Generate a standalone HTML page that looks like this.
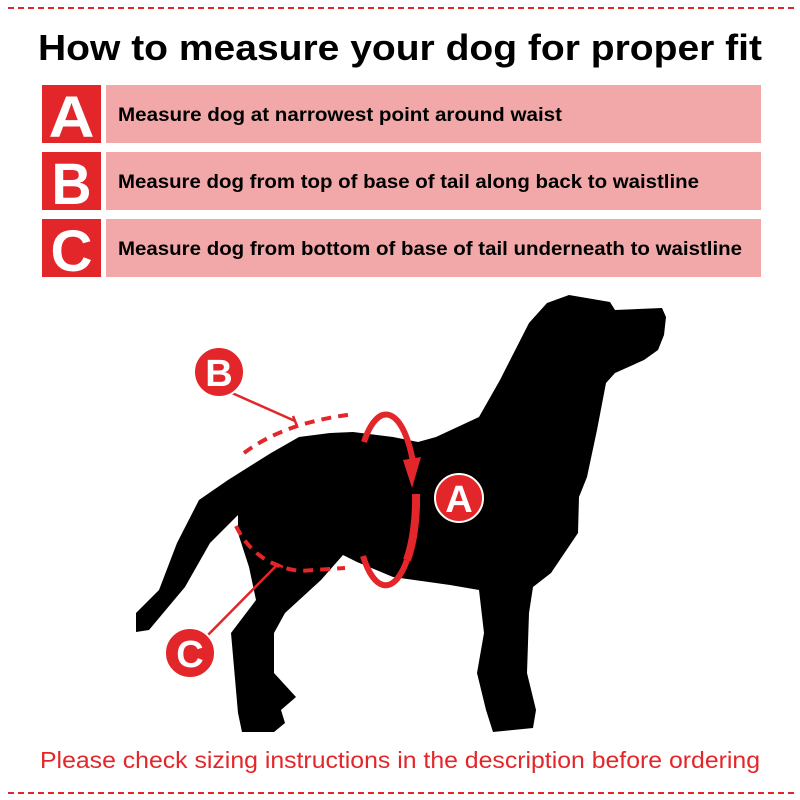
<!DOCTYPE html>
<html><head><meta charset="utf-8"><style>
html,body{margin:0;padding:0;background:#fff}
svg{display:block}
text{font-family:"Liberation Sans",sans-serif}
</style></head><body>
<svg width="800" height="800" viewBox="0 0 800 800" xmlns="http://www.w3.org/2000/svg">
<line x1="8" y1="8" x2="795" y2="8" stroke="#e3262a" stroke-width="2" stroke-dasharray="6,4"/>
<line x1="8" y1="793" x2="795" y2="793" stroke="#e3262a" stroke-width="2" stroke-dasharray="6,4"/>
<text x="400" y="60" text-anchor="middle" font-size="36" font-weight="bold" fill="#000" textLength="724" lengthAdjust="spacingAndGlyphs">How to measure your dog for proper fit</text>

<g>
<rect x="42" y="85" width="59" height="58" fill="#e3262a"/>
<rect x="106" y="85" width="655" height="58" fill="#f2a8a8"/>
<text x="71.5" y="137" text-anchor="middle" font-size="58" font-weight="bold" fill="#fff" textLength="46" lengthAdjust="spacingAndGlyphs">A</text>
<text x="118" y="121" font-size="19" font-weight="bold" fill="#000" textLength="444" lengthAdjust="spacingAndGlyphs">Measure dog at narrowest point around waist</text>

<rect x="42" y="152" width="59" height="58" fill="#e3262a"/>
<rect x="106" y="152" width="655" height="58" fill="#f2a8a8"/>
<text x="71.5" y="204" text-anchor="middle" font-size="58" font-weight="bold" fill="#fff" textLength="40" lengthAdjust="spacingAndGlyphs">B</text>
<text x="118" y="188" font-size="19" font-weight="bold" fill="#000" textLength="581" lengthAdjust="spacingAndGlyphs">Measure dog from top of base of tail along back to waistline</text>

<rect x="42" y="219" width="59" height="58" fill="#e3262a"/>
<rect x="106" y="219" width="655" height="58" fill="#f2a8a8"/>
<text x="71.5" y="271" text-anchor="middle" font-size="58" font-weight="bold" fill="#fff" textLength="42" lengthAdjust="spacingAndGlyphs">C</text>
<text x="118" y="255" font-size="19" font-weight="bold" fill="#000" textLength="624" lengthAdjust="spacingAndGlyphs">Measure dog from bottom of base of tail underneath to waistline</text>
</g>

<path fill="#000" d="M569,295 L610,302 L615,310 L662,308 L666,317 L664,335 L658,350 L644,360 L615,373 L606,383 L597,430 L587,477 L579,497 L578,533 L551,573 L533,587 L529,613 L527,673 L536,710 L533,728 L493,732 L486,710 L477,673 L484,633 L479,590 L450,585 L393,577 L357,562 L343,555 L321,580 L285,613 L274,633 L274,673 L296,697 L281,710 L285,723 L274,732 L242,732 L238,713 L231,633 L256,600 L249,567 L238,533 L238,515 L210,543 L185,587 L149,630 L136,632 L136,613 L159,590 L177,543 L199,500 L228,480 L271,453 L299,437 L330,433 L353,432 L393,437 L418,442 L436,437 L479,417 L500,380 L529,323 L547,303 Z"/>

<!-- A ring visible parts -->
<path d="M364,442 A30,85 0 0,1 413,462" fill="none" stroke="#e3262a" stroke-width="6"/>
<path d="M416,494 A30,85 0 0,1 407,560" fill="none" stroke="#e3262a" stroke-width="8"/>
<path d="M407,560 A30,85 0 0,1 363,556" fill="none" stroke="#e3262a" stroke-width="6"/>
<polygon points="403,460 421,457 412,488" fill="#e3262a"/>
<circle cx="459" cy="498" r="24" fill="#e3262a" stroke="#fff" stroke-width="2"/>
<text x="459" y="512" text-anchor="middle" font-size="38" font-weight="bold" fill="#fff">A</text>

<!-- B -->
<path d="M244,453 Q285,422 355,414" fill="none" stroke="#e3262a" stroke-width="4" stroke-dasharray="10,7"/>
<line x1="232" y1="393" x2="295" y2="421" stroke="#e3262a" stroke-width="2.5"/>
<line x1="293" y1="416" x2="297" y2="426" stroke="#e3262a" stroke-width="2.5"/>
<circle cx="219" cy="372" r="25" fill="#e3262a" stroke="#fff" stroke-width="2"/>
<text x="219" y="386" text-anchor="middle" font-size="38" font-weight="bold" fill="#fff">B</text>

<!-- C -->
<path d="M236,526 Q255,565 300,571 L345,568" fill="none" stroke="#e3262a" stroke-width="4" stroke-dasharray="10,7"/>
<line x1="205" y1="638" x2="278" y2="564" stroke="#e3262a" stroke-width="2.5"/>
<line x1="272" y1="562" x2="283" y2="567" stroke="#e3262a" stroke-width="2.5"/>
<circle cx="190" cy="653" r="25" fill="#e3262a" stroke="#fff" stroke-width="2"/>
<text x="190" y="667" text-anchor="middle" font-size="38" font-weight="bold" fill="#fff">C</text>

<text x="400" y="768" text-anchor="middle" font-size="23" fill="#e3262a" textLength="720" lengthAdjust="spacingAndGlyphs">Please check sizing instructions in the description before ordering</text>
</svg>
</body></html>
